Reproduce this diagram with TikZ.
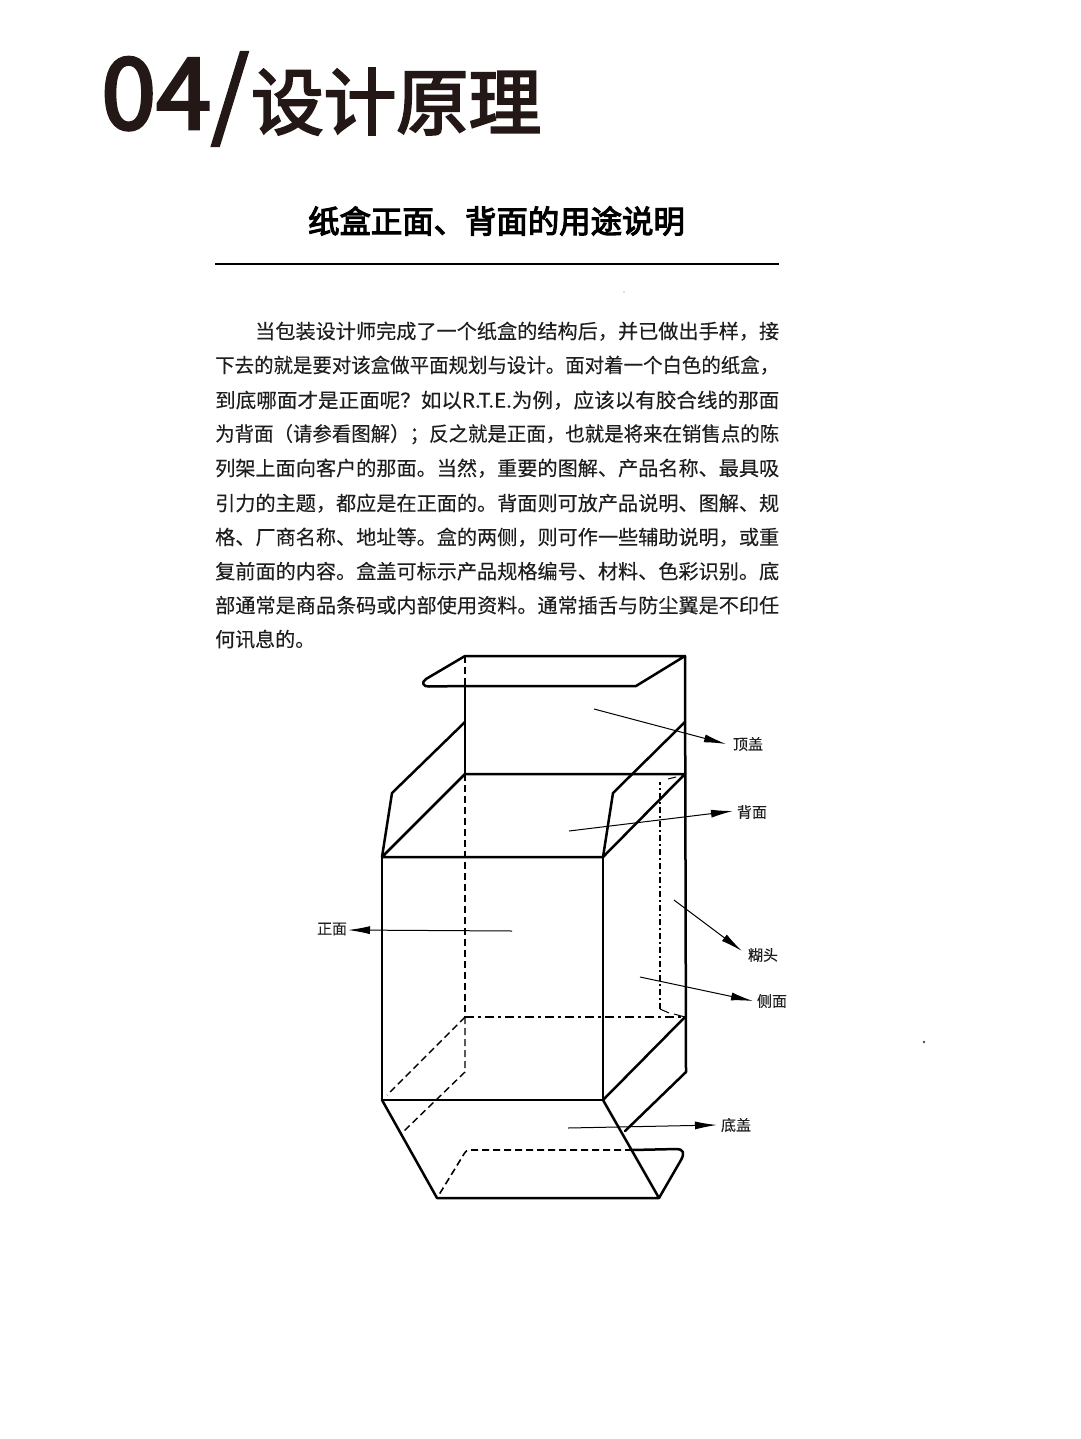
\documentclass[tikz,border=0pt]{standalone}
\usepackage{fontspec}
\usepackage{graphicx}
\usetikzlibrary{arrows.meta}
\setmainfont{Noto Sans CJK SC}
\newfontfamily\titlefont[FakeBold=3]{Noto Sans CJK SC}
\newfontfamily\subfont[FakeBold=3.5]{Noto Sans CJK SC}
\newfontfamily\bodyfont[FakeBold=0.25]{Noto Sans CJK SC}
\definecolor{ink}{HTML}{231815}
\definecolor{bodyink}{HTML}{1E1E1E}
\newcommand{\jline}[3][564pt]{\node[bodyline] at (#2) {\resizebox{#1}{\height}{#3}};}
\tikzset{
  x=1pt,y=-1pt,
  bodyline/.style={anchor=west,inner sep=0pt,font=\bodyfont\fontsize{20}{20}\selectfont,text=bodyink},
  edgeline/.style={line width=2.5pt,line join=round,line cap=round,black},
  hidden/.style={line width=1.4pt,dash pattern=on 7pt off 4pt,black},
  hiddenbold/.style={line width=2.2pt,dash pattern=on 9pt off 4pt on 3pt off 4pt,black},
  pointer/.style={line width=1pt,black,-{Latex[length=22pt,width=8pt]}},
  tag/.style={inner sep=0pt,font=\bodyfont\fontsize{15}{15}\selectfont,text=bodyink},
}
\begin{document}
\begin{tikzpicture}
\useasboundingbox (0,0) rectangle (1080,1439);
% title
\node[inner sep=0pt,anchor=base west,text=ink] (titlenum) at (101,129) {\titlefont\fontsize{99}{99}\selectfont 04};
\node[inner sep=0pt,anchor=base west,text=ink] (titleslash) at (211,128.5) {\titlefont\fontsize{96}{96}\selectfont /};
\node[inner sep=0pt,anchor=base west,text=ink] (titlecn) at (251,129) {\titlefont\fontsize{72.5}{72}\selectfont 设计原理};
\node[inner sep=0pt,text=black] (subtitle) at (496.5,221) {\subfont\fontsize{31.4}{32}\selectfont 纸盒正面、背面的用途说明};
\coordinate (ruleA) at (215,264); \coordinate (ruleB) at (779,264);
\draw[line width=1.8pt] (ruleA) -- (ruleB);
\fill[gray] (624,292) circle (0.7pt);
\fill[black!70] (924,1042) circle (1.4pt);
% body
\jline[524pt]{255,331.2}{当包装设计师完成了一个纸盒的结构后，并已做出手样，接}
\jline{215,365.2}{下去的就是要对该盒做平面规划与设计。面对着一个白色的纸盒，}
\jline{215,400.2}{到底哪面才是正面呢？如以R.T.E.为例，应该以有胶合线的那面}
\jline{215,434.2}{为背面（请参看图解）；反之就是正面，也就是将来在销售点的陈}
\jline{215,468.2}{列架上面向客户的那面。当然，重要的图解、产品名称、最具吸}
\jline{215,503.2}{引力的主题，都应是在正面的。背面则可放产品说明、图解、规}
\jline{215,537.2}{格、厂商名称、地址等。盒的两侧，则可作一些辅助说明，或重}
\jline{215,571.2}{复前面的内容。盒盖可标示产品规格编号、材料、色彩识别。底}
\jline{215,605.2}{部通常是商品条码或内部使用资料。通常插舌与防尘翼是不印任}
\node[bodyline] (lastline) at (215,639.2) {何讯息的。};
% box vertices
\coordinate (ttl) at (465,656); \coordinate (ttr) at (685,656);
\coordinate (tfl) at (465,686); \coordinate (tfr) at (636,686);
\coordinate (bl) at (465,774); \coordinate (br) at (685,774);
\coordinate (fl) at (382,857); \coordinate (fr) at (603,857);
\coordinate (dl1) at (465,722); \coordinate (dl2) at (392,793);
\coordinate (dr1) at (685,722); \coordinate (dr2) at (613,793);
\coordinate (bfl) at (382,1100); \coordinate (bfr) at (603,1100);
\coordinate (hb) at (465,1017); \coordinate (hr) at (685,1017);
\coordinate (rb) at (686,1072); \coordinate (hc) at (465,1072);
\coordinate (rbe) at (625,1131); \coordinate (hce) at (403,1132);
\coordinate (hde) at (387,1095);
\coordinate (gl1) at (660,1009); \coordinate (gl2) at (660,782);
\coordinate (lbl) at (437,1198); \coordinate (lbr) at (659,1198);
\coordinate (tn) at (632,1150); \coordinate (tne) at (470,1150);
% solid edges
\draw[edgeline,line width=2.1pt] (tfl) -- (bl);
\draw[edgeline] (ttl) -- (ttr) -- (tfr) -- (tfl);
\draw[edgeline] (tfl) -- (429,686.5) .. controls (423,687) and (421,682) .. (426,679) -- (ttl);
\draw[edgeline] (ttr) -- (rb) -- (rbe);
\draw[edgeline] (bl) -- (br) -- (fr) -- (fl) -- cycle;
\draw[edgeline] (dl1) -- (dl2) -- (fl);
\draw[edgeline] (dr1) -- (dr2) -- (fr);
\draw[edgeline] (fl) -- (bfl) -- (bfr) -- (fr);
\draw[edgeline] (hr) -- (bfr);
\draw[edgeline] (bfl) -- (lbl) -- (lbr) -- (bfr);
\draw[edgeline] (lbr) -- (681,1160) .. controls (685,1153) and (683,1149) .. (677,1149) -- (tn);
% hidden edges
\draw[hidden] (ttl) -- (tfl);
\draw[hidden] (bl) -- (hb);
\draw[hidden] (hb) -- (hc) -- (hce);
\draw[hidden] (hb) -- (hde);
\draw[hiddenbold] (hb) -- (hr);
\draw[hidden,dash pattern=on 6pt off 3pt on 2pt off 3pt] (gl1) -- (gl2);
\draw[line width=1pt] (668,779) -- (676,777);
\draw[line width=1pt] (gl1) -- (669,1013);
\draw[line width=1pt] (674,1014) -- (hr);
\draw[hidden,line width=1.6pt] (tn) -- (tne) .. controls (467,1150) and (466,1151) .. (464,1154) -- (lbl);
% arrows
\coordinate (a1) at (594,709); \node[tag] (top) at (748,744) {顶盖};
\coordinate (a2) at (569,831); \node[tag] (back) at (752,812) {背面};
\coordinate (a3) at (674,900); \node[tag] (glue) at (763,955) {糊头};
\coordinate (a4) at (640,977); \node[tag] (side) at (772,1001) {侧面};
\coordinate (a5) at (512,931); \node[tag] (front) at (332,929) {正面};
\coordinate (a6) at (568,1128); \node[tag] (bottom) at (736,1125) {底盖};
\draw[pointer] (a1) -- (726,744);
\draw[pointer] (a2) -- (733,811);
\draw[pointer] (a3) -- (742,951);
\draw[pointer] (a4) -- (753,1001);
\draw[pointer] (a5) -- (348,930);
\draw[pointer] (a6) -- (717,1125);
\end{tikzpicture}
\end{document}
